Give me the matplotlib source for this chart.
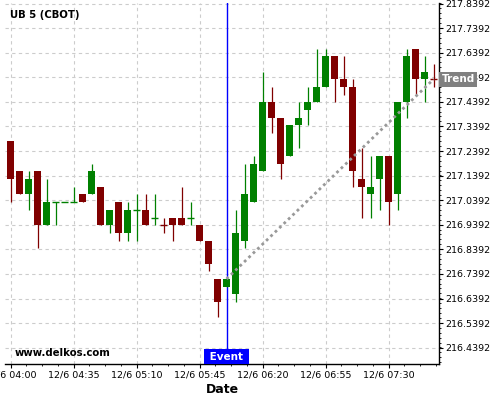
import numpy as np
import pandas as pd
import matplotlib
matplotlib.use("Agg")
import matplotlib.pyplot as plt
import matplotlib.dates as mdates
import matplotlib.transforms as mtransforms
from matplotlib.ticker import FixedLocator, FuncFormatter, MultipleLocator

# 5 minute bars, 12/6 04:00 -> 07:55
times = pd.date_range("2019-12-06 04:00", periods=48, freq="5min")

opens = [217.28125, 217.15625, 217.0625, 217.15625, 216.9375, 217.03125, 217.03125, 217.03125, 217.0625, 217.0625,
         217.09375, 216.9375, 217.03125, 216.90625, 217.0, 217.0, 216.96875, 216.9375, 216.96875, 216.96875,
         216.96875, 216.9375, 216.875, 216.71875, 216.6875, 216.65625, 216.875, 217.03125, 217.15625, 217.4375,
         217.375, 217.21875, 217.34375, 217.40625, 217.4375, 217.5, 217.625, 217.53125, 217.5, 217.125,
         217.0625, 217.125, 217.21875, 217.0625, 217.4375, 217.65625, 217.53125, 217.53125]
highs = [217.28125, 217.15625, 217.15625, 217.15625, 217.125, 217.03125, 217.03125, 217.09375, 217.0625, 217.1875,
         217.09375, 217.0, 217.03125, 217.03125, 217.0625, 217.0625, 217.0625, 216.96875, 216.96875, 217.09375,
         217.03125, 216.9375, 216.875, 216.71875, 216.71875, 217.0, 217.1875, 217.21875, 217.5625, 217.5,
         217.375, 217.34375, 217.4375, 217.5, 217.65625, 217.65625, 217.625, 217.625, 217.53125, 217.25,
         217.21875, 217.21875, 217.21875, 217.4375, 217.65625, 217.65625, 217.625, 217.59375]
lows = [217.03125, 217.0625, 217.0, 216.84375, 216.9375, 216.9375, 217.03125, 217.03125, 217.03125, 217.0625,
        216.9375, 216.90625, 216.875, 216.875, 216.875, 216.9375, 216.9375, 216.90625, 216.875, 216.9375,
        216.9375, 216.875, 216.75, 216.5625, 216.6875, 216.625, 216.84375, 217.03125, 217.15625, 217.3125,
        217.125, 217.21875, 217.25, 217.34375, 217.4375, 217.5, 217.4375, 217.46875, 217.09375, 216.96875,
        216.96875, 217.0, 216.9375, 217.0, 217.375, 217.46875, 217.4375, 217.5]
closes = [217.125, 217.0625, 217.125, 216.9375, 217.03125, 217.03125, 217.03125, 217.03125, 217.03125, 217.15625,
          216.9375, 217.0, 216.90625, 217.0, 217.0, 216.9375, 216.96875, 216.9375, 216.9375, 216.9375,
          216.96875, 216.875, 216.78125, 216.625, 216.71875, 216.90625, 217.0625, 217.1875, 217.4375, 217.375,
          217.1875, 217.34375, 217.375, 217.4375, 217.5, 217.625, 217.53125, 217.5, 217.15625, 217.09375,
          217.09375, 217.21875, 217.03125, 217.4375, 217.625, 217.53125, 217.5625, 217.53125]

event_time = pd.Timestamp("2019-12-06 06:00")
trend_times = [pd.Timestamp("2019-12-06 06:00"), pd.Timestamp("2019-12-06 07:55")]
trend_values = [216.71875, 217.53125]

y_ticks = [216.4392, 216.5392, 216.6392, 216.7392, 216.8392, 216.9392, 217.0392,
           217.1392, 217.2392, 217.3392, 217.4392, 217.5392, 217.6392, 217.7392, 217.8392]
x_ticks = pd.date_range("2019-12-06 04:00", "2019-12-06 07:30", freq="35min")

UP = "#008000"
DOWN = "#800000"

fig = plt.figure(figsize=(5, 4), dpi=100)
ax = fig.add_axes([0.01, 0.09, 0.8686, 0.9025])

x = mdates.date2num(times)
w = 3.9 / 1440.0

# colour: close vs open, doji against previous close
colors = []
for i in range(len(x)):
    if closes[i] > opens[i]:
        colors.append(UP)
    elif closes[i] < opens[i]:
        colors.append(DOWN)
    else:
        prev = closes[i - 1] if i > 0 else closes[i]
        colors.append(DOWN if closes[i] < prev else UP)

ax.vlines(x, lows, highs, colors=colors, linewidth=0.9, zorder=3)
for i in range(len(x)):
    lo = min(opens[i], closes[i])
    hi = max(opens[i], closes[i])
    if hi > lo:
        ax.bar(x[i], hi - lo, bottom=lo, width=w, color=colors[i], linewidth=0, zorder=4)
    else:
        ax.hlines(lo, x[i] - w / 2, x[i] + w / 2, colors=colors[i], linewidth=1.0, zorder=4)

# trend line
ax.plot(mdates.date2num(trend_times), trend_values, color="#999999", linewidth=2.0,
        linestyle=(0, (1, 1.2)), zorder=5)

# event line
ex = mdates.date2num(event_time)
ax.axvline(ex, color="#0000ff", linewidth=1.0, zorder=2)

ax.set_xlim(mdates.date2num(pd.Timestamp("2019-12-06 03:56:56")),
            mdates.date2num(pd.Timestamp("2019-12-06 07:58:12")))
ax.set_ylim(216.3728, 217.8415)

# axes style
for side in ["left", "top"]:
    ax.spines[side].set_visible(False)
ax.spines["right"].set_linewidth(1.0)
ax.spines["bottom"].set_linewidth(1.0)

ax.yaxis.tick_right()
ax.yaxis.set_major_locator(FixedLocator(y_ticks))
ax.yaxis.set_minor_locator(MultipleLocator(0.02))
ax.yaxis.set_major_formatter(FuncFormatter(lambda v, p: f"{v:.4f}"))
ax.xaxis.set_major_locator(FixedLocator(mdates.date2num(x_ticks)))
ax.xaxis.set_minor_locator(MultipleLocator(8.75 / 1440.0))
ax.xaxis.set_major_formatter(FuncFormatter(
    lambda v, p: "{0}/{1} {2:%H:%M}".format(mdates.num2date(v).month, mdates.num2date(v).day, mdates.num2date(v))))

ax.tick_params(axis="both", which="major", labelsize=6.8, length=3, width=0.8, pad=1.5, colors="black")
ax.tick_params(axis="both", which="minor", length=1.5, width=0.6)
ax.grid(True, which="major", color="#cccccc", linestyle=(0, (3, 3)), linewidth=0.8)
ax.set_axisbelow(True)

ax.set_xlabel("Date", fontsize=9, fontweight="bold", labelpad=3)

# labels
fig.text(10 / 500, 1 - 15 / 400, "UB 5 (CBOT)", fontsize=7.3, fontweight="bold", va="center", ha="left")
fig.text(15 / 500, 1 - 353 / 400, "www.delkos.com", fontsize=7.3, fontweight="bold", va="center", ha="left")

tr_ev = mtransforms.blended_transform_factory(ax.transData, ax.transAxes)
ax.text(ex, 0.006, " Event ", transform=tr_ev, ha="center", va="bottom", color="white",
        fontsize=7.5, fontweight="bold", zorder=10,
        bbox=dict(boxstyle="square,pad=0.25", facecolor="#0000ff", edgecolor="none"))

tr_tr = mtransforms.blended_transform_factory(ax.transAxes, ax.transData)
ax.text(1.005, trend_values[-1], "Trend", transform=tr_tr, ha="left", va="center", color="white",
        fontsize=7.5, fontweight="bold", zorder=10, clip_on=False,
        bbox=dict(boxstyle="square,pad=0.22", facecolor="#808080", edgecolor="none"))

fig.savefig("out.png", dpi=100)
